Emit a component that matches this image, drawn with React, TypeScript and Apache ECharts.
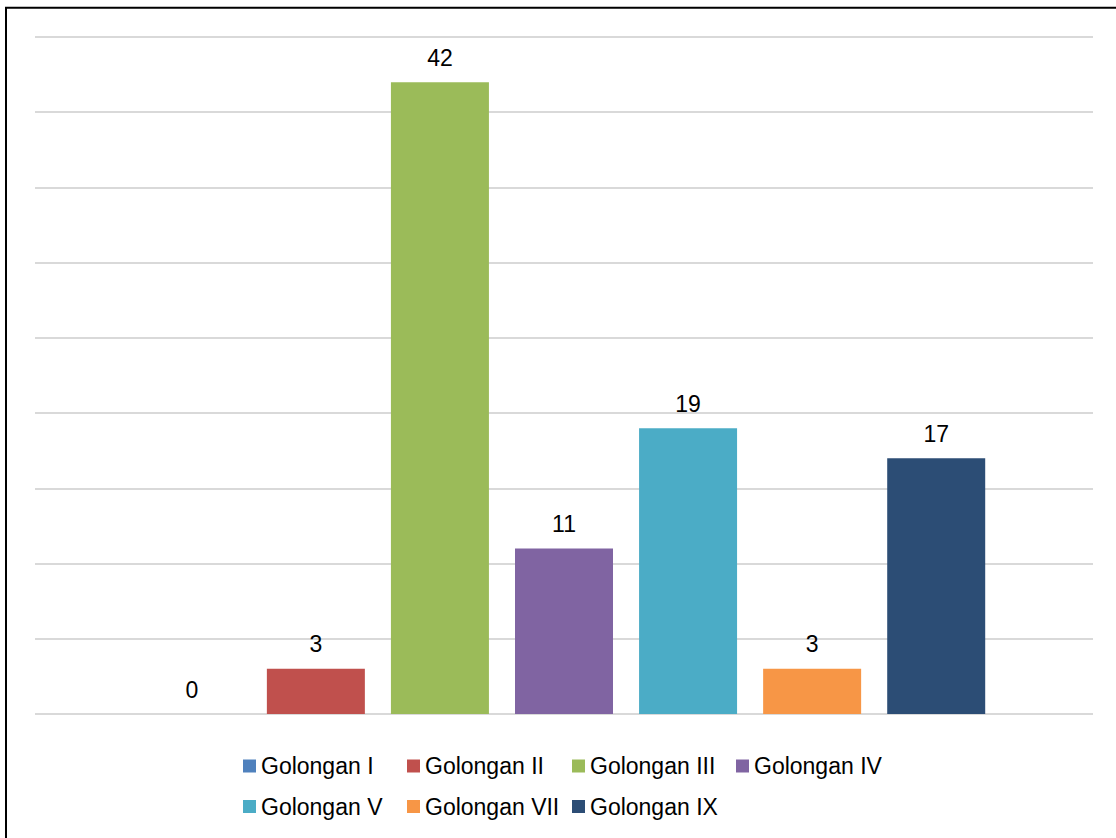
import React, { useEffect, useRef } from "react";
import * as echarts from "echarts";

const categories = [""];
const seriesNames = [
  "Golongan I",
  "Golongan II",
  "Golongan III",
  "Golongan IV",
  "Golongan V",
  "Golongan VII",
  "Golongan IX",
];
const seriesValues = [0, 3, 42, 11, 19, 3, 17];
const seriesColors = ["#4F81BD", "#C0504D", "#9BBB59", "#8064A2", "#4BACC6", "#F79646", "#2C4D75"];
const legendLeft = [243, 407, 572, 736, 243, 407, 572];
const legendTop = [754.5, 754.5, 754.5, 754.5, 795, 795, 795];

const FONT = 'Arial, "Liberation Sans", sans-serif';

export default function App() {
  const ref = useRef<HTMLDivElement>(null);
  useEffect(() => {
    if (!ref.current) return;
    const chart = echarts.init(ref.current, null, { renderer: "svg" });
    chart.setOption({
      animation: false,
      backgroundColor: "#ffffff",
      grid: { left: 35, right: 23, top: 37, bottom: 124 },
      xAxis: {
        type: "category",
        data: categories,
        axisLine: { show: false },
        axisTick: { show: false },
        axisLabel: { show: false },
      },
      yAxis: {
        type: "value",
        min: 0,
        max: 45,
        interval: 5,
        axisLine: { show: false },
        axisTick: { show: false },
        axisLabel: { show: false },
        splitLine: { lineStyle: { color: "#d9d9d9", width: 2 } },
      },
      legend: seriesNames.map((n, i) => ({
        data: [n],
        left: legendLeft[i],
        top: legendTop[i],
        padding: 0,
        itemWidth: 13,
        itemHeight: 13,
        icon: "rect",
        selectedMode: false,
        textStyle: { fontSize: 23, fontFamily: FONT, color: "#000", lineHeight: 13 },
      })),
      graphic: [
        {
          type: "rect",
          shape: { x: 6, y: 7.7, width: 1200, height: 1000 },
          style: { fill: "none", stroke: "#000", lineWidth: 2 },
          silent: true,
        },
      ],
      series: seriesNames.map((n, i) => ({
        name: n,
        type: "bar",
        data: [seriesValues[i]],
        barWidth: 98,
        barGap: "26.6%",
        itemStyle: { color: seriesColors[i] },
        label: {
          show: true,
          position: "top",
          distance: 13,
          fontSize: 23,
          fontFamily: FONT,
          color: "#000",
        },
      })),
    });
    return () => chart.dispose();
  }, []);
  return (
    <div
      ref={ref}
      style={{ position: "absolute", left: 0, top: 0, width: 1116, height: 838 }}
    />
  );
}
